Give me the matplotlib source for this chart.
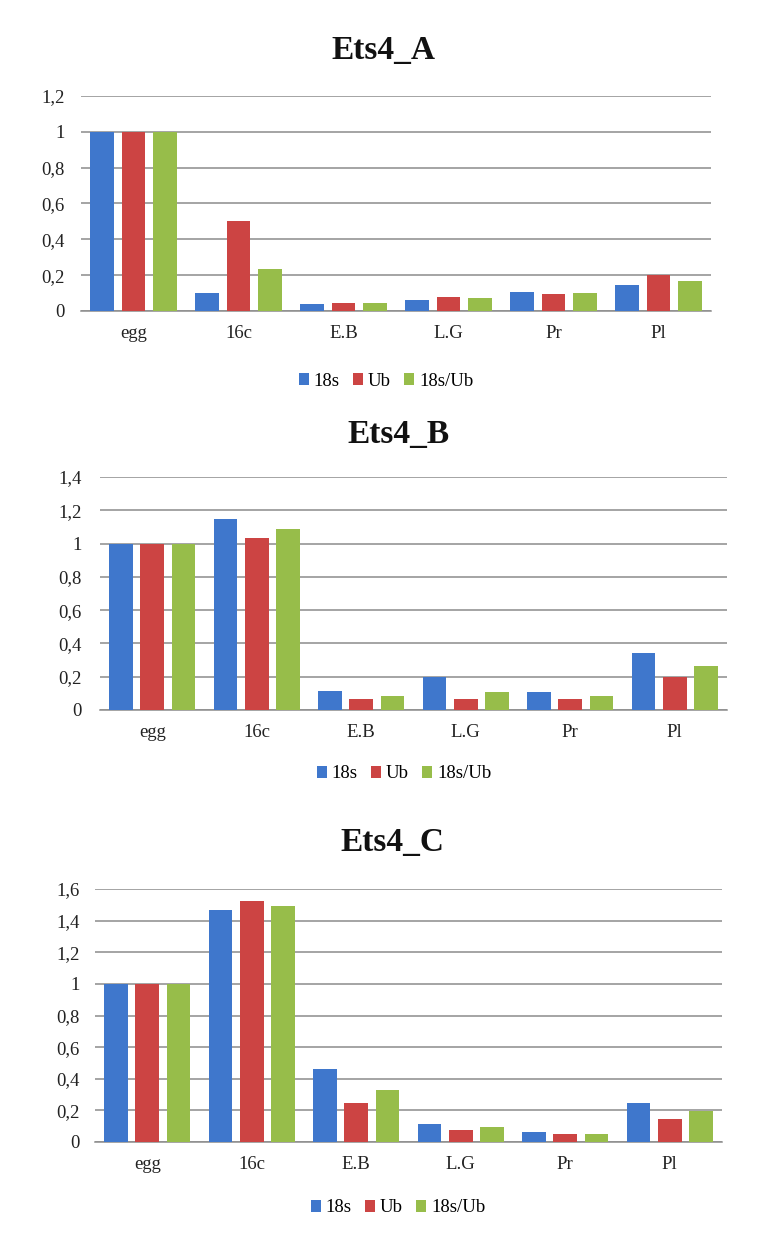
import matplotlib
matplotlib.use("Agg")
import matplotlib.pyplot as plt
from matplotlib.ticker import FuncFormatter, MultipleLocator
from matplotlib.patches import Patch
import numpy as np

categories = ["egg", "16c", "E.B", "L.G", "Pr", "Pl"]
series_names = ["18s", "Ub", "18s/Ub"]

a_18s = [1.0, 0.10, 0.037, 0.061, 0.104, 0.147]
a_ub = [1.0, 0.505, 0.047, 0.080, 0.097, 0.199]
a_ratio = [1.0, 0.236, 0.045, 0.073, 0.102, 0.169]

b_18s = [1.0, 1.15, 0.114, 0.20, 0.11, 0.34]
b_ub = [1.0, 1.036, 0.064, 0.064, 0.064, 0.20]
b_ratio = [1.0, 1.09, 0.084, 0.11, 0.084, 0.264]

c_18s = [1.0, 1.467, 0.464, 0.116, 0.061, 0.247]
c_ub = [1.0, 1.524, 0.247, 0.078, 0.049, 0.144]
c_ratio = [1.0, 1.492, 0.331, 0.095, 0.049, 0.196]

titles = ["Ets4_A", "Ets4_B", "Ets4_C"]
ymax = [1.2, 1.4, 1.6]

colors = ["#3F77CC", "#CC4443", "#97BD4A"]
FONT = "Liberation Serif"

W, H = 777, 1254
fig = plt.figure(figsize=(W / 100, H / 100), dpi=100)
fig.patch.set_facecolor("white")

# axes boxes in pixels: left, right, top, bottom
boxes = [(81, 711, 96, 311), (100, 727, 477, 710), (95, 722, 889, 1142)]
title_pos = [(383, 50), (399, 434), (392, 843)]
legend_pos = [(386, 381), (404, 774), (398, 1208)]
ypads = [12, 13, 11]
panels = [(a_18s, a_ub, a_ratio), (b_18s, b_ub, b_ratio), (c_18s, c_ub, c_ratio)]


def fmt(v, pos):
    s = ("%.1f" % v).replace(".", ",")
    if s.endswith(",0"):
        s = s[:-2]
    return s


x = np.arange(len(categories))
bw = 0.225
pitch = 0.30
for i, (box, data) in enumerate(zip(boxes, panels)):
    l, r, t, b = box
    ax = fig.add_axes([l / W, 1 - b / H, (r - l) / W, (b - t) / H])
    for j, vals in enumerate(data):
        ax.bar(x + (j - 1) * pitch, vals, width=bw, color=colors[j], zorder=3)
    ax.set_xlim(-0.5, len(categories) - 0.5)
    ax.set_ylim(0, ymax[i])
    ax.yaxis.set_major_locator(MultipleLocator(0.2))
    ax.yaxis.set_major_formatter(FuncFormatter(fmt))
    ax.grid(axis="y", color="#8c8c8c", linewidth=1.1, zorder=0)
    for s in ["top", "right", "left"]:
        ax.spines[s].set_visible(False)
    ax.spines["bottom"].set_color("#8c8c8c")
    ax.spines["bottom"].set_linewidth(1.1)
    ax.tick_params(axis="both", length=0, labelsize=13.5)
    ax.tick_params(axis="y", pad=ypads[i])
    ax.tick_params(axis="x", pad=10)
    ax.set_xticks(x)
    ax.set_xticklabels(categories)
    for lab in ax.get_xticklabels() + ax.get_yticklabels():
        lab.set_fontfamily(FONT)
        lab.set_color("#222222")
    tx, ty = title_pos[i]
    fig.text(tx / W, 1 - ty / H, titles[i], ha="center", va="center",
             fontsize=24, fontweight="bold", family=FONT, color="#111111")
    lx, ly = legend_pos[i]
    handles = [Patch(facecolor=c, edgecolor="none") for c in colors]
    fig.legend(handles, series_names, loc="center", bbox_to_anchor=(lx / W, 1 - ly / H),
               ncol=3, frameon=False, handlelength=0.55, handleheight=0.55,
               handletextpad=0.25, columnspacing=0.7,
               prop={"family": FONT, "size": 13.5})

fig.savefig("out.png", dpi=100, facecolor="white")
